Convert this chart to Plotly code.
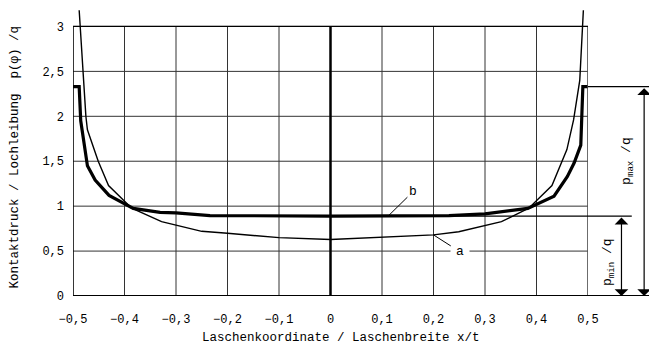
import plotly.graph_objects as go

# --- data -------------------------------------------------------------
# curve a: contact pressure distribution (thin line)
a_x = [-0.488, -0.481, -0.475, -0.472, -0.451, -0.431, -0.386, -0.328, -0.25, -0.2, -0.1, 0.0,
       0.1, 0.2, 0.249, 0.332, 0.385, 0.430, 0.459, 0.472, 0.484, 0.491]
a_y = [3.18, 2.5, 2.0, 1.85, 1.5, 1.23, 0.977, 0.827, 0.72, 0.698, 0.65, 0.629,
       0.654, 0.68, 0.715, 0.827, 0.977, 1.23, 1.63, 1.96, 2.40, 3.18]

# curve b: contact pressure distribution (thick line)
b_x = [-0.5, -0.488, -0.485, -0.472, -0.457, -0.430, -0.383, -0.331, -0.30, -0.234, 0.0,
       0.23, 0.30, 0.331, 0.383, 0.434, 0.460, 0.473, 0.486, 0.490, 0.5]
b_y = [2.33, 2.33, 1.95, 1.45, 1.29, 1.12, 0.975, 0.93, 0.925, 0.895, 0.89,
       0.895, 0.915, 0.935, 0.975, 1.11, 1.33, 1.48, 1.68, 2.33, 2.33]

p_max = 2.33
p_min = 0.89

x_ticks = [-0.5, -0.4, -0.3, -0.2, -0.1, 0.0, 0.1, 0.2, 0.3, 0.4, 0.5]
x_ticktext = ["−0,5", "−0,4", "−0,3", "−0,2", "−0,1", "0", "0,1", "0,2", "0,3", "0,4", "0,5"]
y_ticks = [0, 0.5, 1, 1.5, 2, 2.5, 3]
y_ticktext = ["0", "0,5", "1", "1,5", "2", "2,5", "3"]

FONT = "Liberation Mono, Courier New, monospace"
GRID = "#333333"

fig = go.Figure()

# grid, drawn as shapes so it stops at the frame top while curve a may run above
shapes = []
for xv in x_ticks:
    shapes.append(dict(type="line", xref="x", yref="y", x0=xv, x1=xv, y0=y_ticks[0], y1=y_ticks[-1],
                       line=dict(color=GRID, width=1), layer="below"))
for yv in y_ticks:
    shapes.append(dict(type="line", xref="x", yref="y", x0=x_ticks[0], x1=x_ticks[-1], y0=yv, y1=yv,
                       line=dict(color=GRID, width=1), layer="below"))
# frame
shapes.append(dict(type="line", xref="x", yref="y", x0=x_ticks[0], x1=x_ticks[0], y0=0, y1=y_ticks[-1],
                   line=dict(color="black", width=1.3)))
shapes.append(dict(type="line", xref="x", yref="y", x0=x_ticks[-1], x1=x_ticks[-1], y0=0, y1=y_ticks[-1],
                   line=dict(color="#555555", width=1.3)))
shapes.append(dict(type="line", xref="x", yref="y", x0=x_ticks[0], x1=x_ticks[-1], y0=y_ticks[-1], y1=y_ticks[-1],
                   line=dict(color="black", width=1.3)))
# centre line x = 0
shapes.append(dict(type="line", xref="x", yref="y", x0=0, x1=0, y0=0, y1=y_ticks[-1],
                   line=dict(color="black", width=2.5)))
# base line, extended under the dimension arrows
shapes.append(dict(type="line", xref="paper", yref="y", x0=0, x1=1.13, y0=0, y1=0,
                   line=dict(color="black", width=2.2)))
# reference lines for p_max and p_min
shapes.append(dict(type="line", xref="paper", yref="y", x0=1.0, x1=1.13, y0=p_max, y1=p_max,
                   line=dict(color="black", width=1.2)))
shapes.append(dict(type="line", xref="paper", yref="y", x0=0.5, x1=1.085, y0=p_min, y1=p_min,
                   line=dict(color="black", width=1.2)))

fig.add_trace(go.Scatter(x=a_x, y=a_y, mode="lines", line=dict(color="black", width=1.4),
                         showlegend=False, hoverinfo="skip"))
fig.add_trace(go.Scatter(x=b_x, y=b_y, mode="lines", line=dict(color="black", width=3.2),
                         showlegend=False, hoverinfo="skip"))

annotations = [
    # curve labels with leader lines
    dict(x=0.112, y=p_min, xref="x", yref="y", ax=0.16, ay=1.16, axref="x", ayref="y",
         text="b", showarrow=True, arrowhead=0, arrowwidth=1, arrowcolor="black",
         font=dict(family=FONT, size=13, color="black")),
    dict(x=0.2, y=0.68, xref="x", yref="y", ax=0.252, ay=0.49, axref="x", ayref="y",
         text="a", showarrow=True, arrowhead=0, arrowwidth=1, arrowcolor="black",
         bgcolor="white", borderpad=5,
         font=dict(family=FONT, size=13, color="black")),
    # dimension arrows
    dict(x=1.109, y=0, xref="paper", yref="y", ax=0, ay=p_max, axref="pixel", ayref="y",
         text="", showarrow=True, arrowhead=1, startarrowhead=1, arrowside="end+start",
         arrowsize=1.9, startarrowsize=1.9, arrowwidth=1.2, arrowcolor="black"),
    dict(x=1.065, y=0, xref="paper", yref="y", ax=0, ay=p_min, axref="pixel", ayref="y",
         text="", showarrow=True, arrowhead=1, startarrowhead=1, arrowside="end+start",
         arrowsize=1.9, startarrowsize=1.9, arrowwidth=1.2, arrowcolor="black"),
    dict(x=1.077, y=1.5, xref="paper", yref="y", xanchor="center", yanchor="middle",
         text="p<sub>max</sub> /q", textangle=-90,
         showarrow=False, font=dict(family=FONT, size=13, color="black")),
    dict(x=1.041, y=0.38, xref="paper", yref="y", xanchor="center", yanchor="middle",
         text="p<sub>min</sub> /q", textangle=-90,
         showarrow=False, font=dict(family=FONT, size=13, color="black")),
    # axis titles
    dict(x=-0.113, y=1.55, xref="paper", yref="y", xanchor="center", yanchor="middle",
         text="Kontaktdruck / Lochleibung  p(φ) /q",
         textangle=-90, showarrow=False, font=dict(family=FONT, size=12.5, color="black")),
    dict(x=0.52, y=-0.144, xref="paper", yref="paper", xanchor="center", yanchor="middle",
         text="Laschenkoordinate / Laschenbreite x/t",
         showarrow=False, font=dict(family=FONT, size=12.5, color="black")),
]

fig.update_layout(
    width=649, height=364,
    margin=dict(l=73, r=61, t=4, b=68),
    paper_bgcolor="white", plot_bgcolor="white",
    shapes=shapes, annotations=annotations,
    xaxis=dict(range=[-0.5, 0.5], tickvals=x_ticks, ticktext=x_ticktext, showgrid=False,
               zeroline=False, showline=False, ticks="", ticklabelstandoff=14,
               tickfont=dict(family=FONT, size=12, color="black")),
    yaxis=dict(range=[0, 3.25], tickvals=y_ticks, ticktext=y_ticktext, showgrid=False,
               zeroline=False, showline=False, ticks="", ticklabelstandoff=8,
               tickfont=dict(family=FONT, size=12, color="black")),
)

fig.write_html("out.html")
